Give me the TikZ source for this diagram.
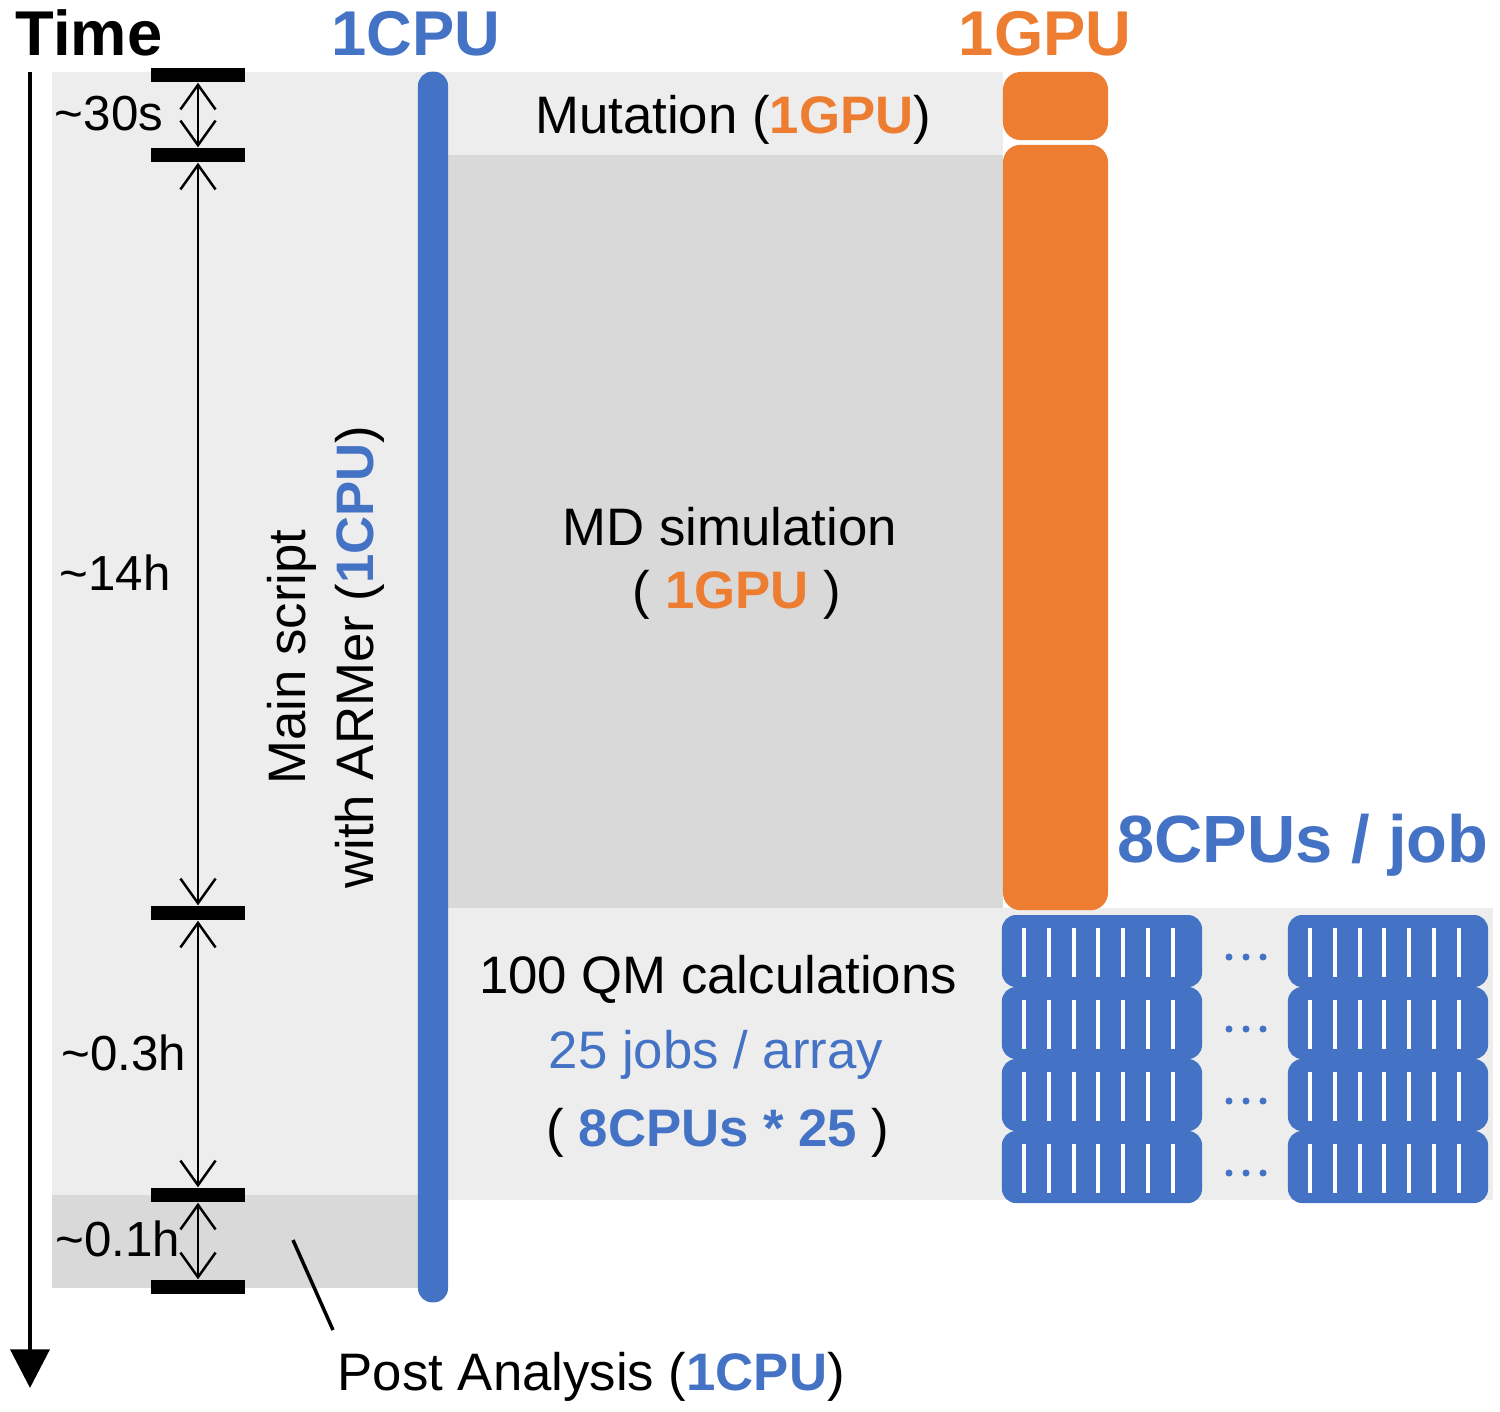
\documentclass[tikz,border=0pt]{standalone}
\usepackage{fontspec}
\setmainfont{Liberation Sans}
\usepackage{xcolor}
\usetikzlibrary{arrows.meta, positioning, calc}

\definecolor{cpublue}{HTML}{4472C4}
\definecolor{gpuorange}{HTML}{ED7D31}
\definecolor{bglight}{HTML}{EDEDED}
\definecolor{bgdark}{HTML}{D9D9D9}
\newcommand{\cpuc}[1]{\textcolor{cpublue}{\bfseries #1}}
\newcommand{\gpuc}[1]{\textcolor{gpuorange}{\bfseries #1}}

\begin{document}
\begin{tikzpicture}[x=0.01cm, y=-0.01cm, >=Stealth]
    \tikzset{
        head/.style={font=\fontsize{18}{21}\selectfont\bfseries, inner sep=0pt, anchor=base},
        txt/.style={font=\fontsize{15}{18}\selectfont, inner sep=0pt, anchor=base},
        dur/.style={font=\fontsize{14}{17}\selectfont, inner sep=0pt, anchor=base},
        tickbar/.style={rectangle, fill=black, minimum width=0.93cm, minimum height=0.14cm, inner sep=0pt},
        gpubox/.style={rectangle, fill=gpuorange, rounded corners=5pt, minimum width=1.05cm, inner sep=0pt},
        cpubox/.style={rectangle, fill=cpublue, rounded corners=4pt, minimum width=2cm, minimum height=0.72cm, inner sep=0pt},
        dim/.style={<->, >={Straight Barb[length=7pt,width=10pt]}, line width=0.7pt}
    }
    \useasboundingbox (0,0) rectangle (1500,1411);

    \fill[bglight] (52,72) rectangle (1003,155);
    \fill[bglight] (52,155) rectangle (433,1195);
    \fill[bglight] (433,908) rectangle (1493,1200);
    \fill[bgdark] (448,155) rectangle (1003,908);
    \fill[bgdark] (52,1195) rectangle (433,1288);

    \node (Time) [head, anchor=base west] at (15,55) {Time};
    \node (CPUHead) [head, text=cpublue] at (416,55) {1CPU};
    \node (GPUHead) [head, text=gpuorange] at (1045,55) {1GPU};
    \node (JobHead) [head, font=\fontsize{19}{22}\selectfont\bfseries, text=cpublue] at (1303,862) {8CPUs / job};

    \coordinate (TimeTop) at (30,72);
    \coordinate (TimeEnd) at (30,1388);
    \draw[line width=1.4pt, -{Triangle[length=11pt,width=11pt]}] (TimeTop) -- (TimeEnd);

    \node (CPUBar) [rectangle, fill=cpublue, rounded corners=4pt, minimum width=0.3cm, minimum height=12.3cm, inner sep=0pt] at (433,687) {};
    \node (GPUMut) [gpubox, minimum height=0.68cm] at (1055.5,106) {};
    \node (GPUMD) [gpubox, minimum height=7.65cm] at (1055.5,527.5) {};

    \node (MutLabel) [txt] at (733,133) {Mutation (\gpuc{1GPU})};
    \node (MDLabel) [txt] at (730,545) {MD simulation};
    \node (MDGpu) [txt] at (737,608) {( \gpuc{1GPU} )};
    \node (QMLabel) [txt] at (718,993) {100 QM calculations};
    \node (QMJobs) [txt, text=cpublue] at (716,1068) {25 jobs / array};
    \node (QMCpus) [txt] at (718,1146) {( \cpuc{8CPUs * 25} )};
    \node (MainLabel) [font=\fontsize{15}{19.5}\selectfont, align=center, rotate=90, inner sep=0pt] at (326,657) {Main script\\with ARMer (\cpuc{1CPU})};
    \node (PostLabel) [txt, anchor=base west] at (337,1390) {Post Analysis (\cpuc{1CPU})};

    \coordinate (PostPin) at (293,1240);
    \coordinate (PostEnd) at (333,1330);
    \draw[line width=1pt] (PostPin) -- (PostEnd);

    \foreach \n/\y in {1/75, 2/155, 3/913, 4/1195, 5/1287}
        \node (T\n) [tickbar] at (198,\y) {};
    \foreach \a/\b in {1/2, 2/3, 3/4, 4/5}
        \draw[dim] (T\a) -- (T\b);

    \node (D30s) [dur] at (109,130) {\textasciitilde30s};
    \node (D14h) [dur] at (115,590) {\textasciitilde14h};
    \node (D03h) [dur] at (124,1070) {\textasciitilde0.3h};
    \node (D01h) [dur] at (118,1256) {\textasciitilde0.1h};

    \foreach \r/\yc in {1/951, 2/1023, 3/1095, 4/1167} {
        \node (CPUL\r) [cpubox] at (1102,\yc) {};
        \node (CPUR\r) [cpubox] at (1388,\yc) {};
        \foreach \xl in {1002, 1288}
            \foreach \k in {0,...,6}
                \fill[white] ({\xl+20+24.8*\k},{\yc-23}) rectangle ++(4,49);
        \foreach \xd in {1229, 1246, 1263}
            \fill[cpublue] (\xd,{\yc+6}) circle[radius=1pt];
    }
\end{tikzpicture}
\end{document}
